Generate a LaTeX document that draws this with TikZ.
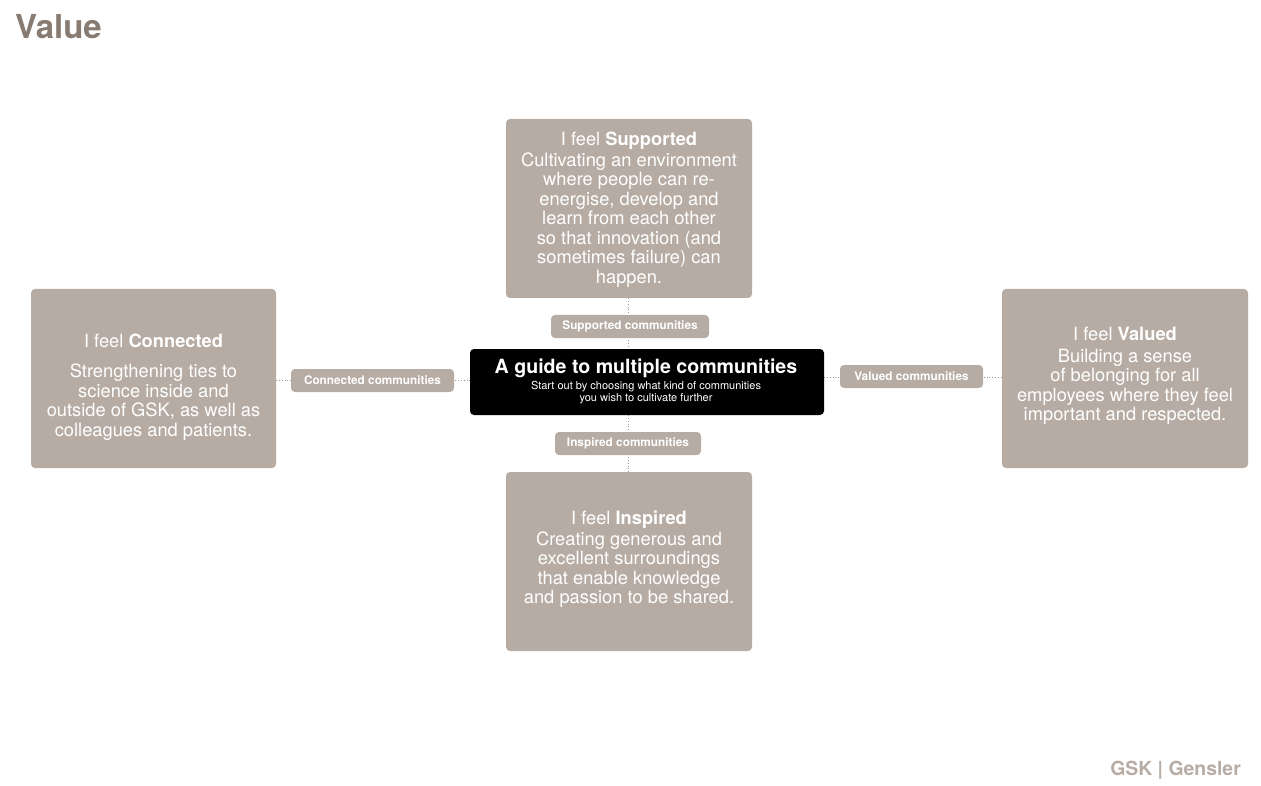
\documentclass[tikz,border=0pt]{standalone}
\usepackage{fontspec}
\setmainfont{TeX Gyre Heros}
\usetikzlibrary{backgrounds}
\definecolor{boxc}{HTML}{B6ACA3}
\definecolor{titlec}{HTML}{877B72}
\definecolor{dotc}{HTML}{A09890}
\tikzset{
  card/.style={fill=boxc, draw=none, rounded corners=4pt, inner sep=0pt},
  cardtext/.style={text=white, align=center, inner sep=0pt, font=\fontsize{18.3}{19.5}\selectfont},
  pill/.style={fill=boxc, draw=none, rounded corners=4pt, inner sep=0pt, text=white, font=\fontsize{11.8}{13}\selectfont\bfseries},
  dotline/.style={draw=dotc, dotted, line width=0.8pt}
}
\begin{document}
\begin{tikzpicture}[x=1pt,y=-1pt]
\useasboundingbox (0,0) rectangle (1261,786);
% title & footer
\node[anchor=west, text=titlec, font=\fontsize{33}{35}\selectfont\bfseries, inner sep=0pt] (title) at (15,27) {Value};
\node[anchor=east, text=boxc, font=\fontsize{19.4}{21}\selectfont\bfseries, inner sep=0pt] (footer) at (1241,770) {GSK | Gensler};
% cards
\node[card, minimum width=246pt, minimum height=179pt] (sup) at (629,208.5) {};
\node[card, minimum width=245pt, minimum height=179pt] (con) at (153.5,378.5) {};
\node[card, minimum width=246pt, minimum height=179pt] (val) at (1125,378.5) {};
\node[card, minimum width=246pt, minimum height=179pt] (ins) at (629,561.5) {};
% card texts
\node[cardtext] (supt) at (629,209.5) {I feel \textbf{Supported}\\[1.5pt]Cultivating an environment\\where people can re-\\energise, develop and\\learn from each other\\so that innovation (and\\sometimes failure) can\\happen.};
\node[cardtext] (cont) at (153.5,387) {I feel \textbf{Connected}\\[10.5pt]Strengthening ties to\\science inside and\\outside of GSK, as well as\\colleagues and patients.};
\node[cardtext] (valt) at (1125,376) {I feel \textbf{Valued}\\[2.5pt]Building a sense\\of belonging for all\\employees where they feel\\important and respected.};
\node[cardtext] (inst) at (629,559) {I feel \textbf{Inspired}\\[1.5pt]Creating generous and\\excellent surroundings\\that enable knowledge\\and passion to be shared.};
% center
\node[fill=black, rounded corners=4pt, minimum width=354pt, minimum height=66pt, inner sep=0pt] (center) at (647,382) {};
\node[text=white, font=\fontsize{19.6}{21}\selectfont\bfseries, inner sep=0pt] (ctitle) at (646,368) {A guide to multiple communities};
\node[text=white, align=center, font=\fontsize{11}{12}\selectfont, inner sep=0pt] (csub) at (646,393) {Start out by choosing what kind of communities\\you wish to cultivate further};
% pills
\node[pill, minimum width=158pt, minimum height=23pt] (supp) at (630,326.5) {Supported communities};
\node[pill, minimum width=146pt, minimum height=23pt] (insp) at (628,443.5) {Inspired communities};
\node[pill, minimum width=163pt, minimum height=23pt] (conp) at (372.5,380.5) {Connected communities};
\node[pill, minimum width=143pt, minimum height=23pt] (valp) at (911.5,376.5) {Valued communities};
% connectors
\begin{scope}[on background layer]
\draw[dotline] (628,0 |- sup.south) coordinate (a1) -- (a1 |- center.north);
\draw[dotline] (628,0 |- center.south) coordinate (a2) -- (a2 |- ins.north);
\draw[dotline] (con.east |- 0,380) coordinate (a3) -- (a3 -| center.west);
\draw[dotline] (center.east |- 0,377) coordinate (a4) -- (a4 -| val.west);
\end{scope}
\end{tikzpicture}
\end{document}
